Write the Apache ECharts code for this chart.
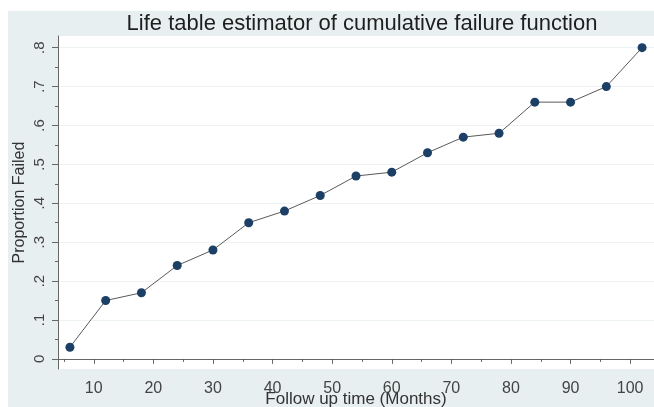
<!DOCTYPE html>
<html>
<head>
<meta charset="utf-8">
<script src="https://cdn.jsdelivr.net/npm/echarts@6/dist/echarts.min.js"></script>
<style>
html,body{margin:0;padding:0;background:#fff;}
#c{width:654px;height:407px;}
</style>
</head>
<body>
<div id="c"></div>
<script>
var months = [6,12,18,24,30,36,42,48,54,60,66,72,78,84,90,96,102];
var proportionFailed = [0.03,0.15,0.17,0.24,0.28,0.35,0.38,0.42,0.47,0.48,0.53,0.57,0.58,0.66,0.66,0.70,0.80];
var xTicks = [10,20,30,40,50,60,70,80,90,100];
var xMinorTicks = [5,15,25,35,45,55,65,75,85,95];
var yTicks = [0,0.1,0.2,0.3,0.4,0.5,0.6,0.7,0.8];
var yMinorTicks = [0.05,0.15,0.25,0.35,0.45,0.55,0.65,0.75];
var yTickLabels = ['0','.1','.2','.3','.4','.5','.6','.7','.8'];

var font = 'Liberation Sans, Arial, sans-serif';
var chart = echarts.init(document.getElementById('c'));
var seriesData = months.map(function(m,i){return [m, proportionFailed[i]];});

chart.setOption({
  backgroundColor: '#ffffff',
  animation: false,
  graphic: [{
    type: 'rect', z: -100, silent: true,
    shape: {x: 8, y: 11, width: 646, height: 396},
    style: {fill: '#e8eff1'}
  }],
  title: {
    text: 'Life table estimator of cumulative failure function',
    left: 357, top: 8, textAlign: 'center',
    textStyle: {fontFamily: font, fontSize: 22, fontWeight: 'normal', color: '#1e1e1e'}
  },
  grid: {left: 58, right: 0, top: 36, bottom: 38, show: true, backgroundColor: '#ffffff', borderWidth: 0,
    containLabel: false, outerBoundsMode: 'none'},
  xAxis: [{
    type: 'value', min: 4, max: 104,
    name: 'Follow up time (Months)', nameLocation: 'middle', nameGap: 22, nameMoveOverlap: false,
    nameTextStyle: {fontFamily: font, fontSize: 17, color: '#333'},
    axisLine: {show: true, lineStyle: {color: '#666', width: 1}},
    axisTick: {show: true, length: 5, lineStyle: {color: '#666'}, customValues: xTicks},
    axisLabel: {fontFamily: font, fontSize: 16, color: '#444', margin: 12, customValues: xTicks},
    splitLine: {show: false}
  },{
    type: 'value', min: 4, max: 104, position: 'bottom',
    axisLine: {show: false},
    axisTick: {show: true, length: 3, lineStyle: {color: '#666'}, customValues: xMinorTicks},
    axisLabel: {show: false, customValues: xMinorTicks},
    splitLine: {show: false}
  }],
  yAxis: [{
    type: 'value', min: -0.026, max: 0.83,
    name: 'Proportion Failed', nameLocation: 'middle', nameGap: 30, nameMoveOverlap: false,
    nameTextStyle: {fontFamily: font, fontSize: 16, color: '#333'},
    axisLine: {show: true, lineStyle: {color: '#666', width: 1}},
    axisTick: {show: true, length: 6, lineStyle: {color: '#666'}, customValues: yTicks},
    axisLabel: {fontFamily: font, fontSize: 15, color: '#444', rotate: 90, margin: 11, customValues: yTicks,
      formatter: function(v){ var i = Math.round(v*10); return yTickLabels[i]; }},
    splitLine: {show: false}
  },{
    type: 'value', min: -0.026, max: 0.83, position: 'left',
    axisLine: {show: false},
    axisTick: {show: true, length: 3, lineStyle: {color: '#666'}, customValues: yMinorTicks},
    axisLabel: {show: false, customValues: yMinorTicks},
    splitLine: {show: false}
  }],
  series: [{
    type: 'line',
    data: seriesData,
    symbol: 'circle', symbolSize: 9,
    itemStyle: {color: '#1c3f66'},
    lineStyle: {color: '#5a5a5a', width: 1},
    markLine: {
      silent: true, symbol: 'none', label: {show: false},
      lineStyle: {color: '#edf2f4', type: 'solid', width: 1},
      data: yTicks.map(function(v){return {yAxis: v};}),
      z: 0
    },
    z: 5
  }]
});
</script>
</body>
</html>
